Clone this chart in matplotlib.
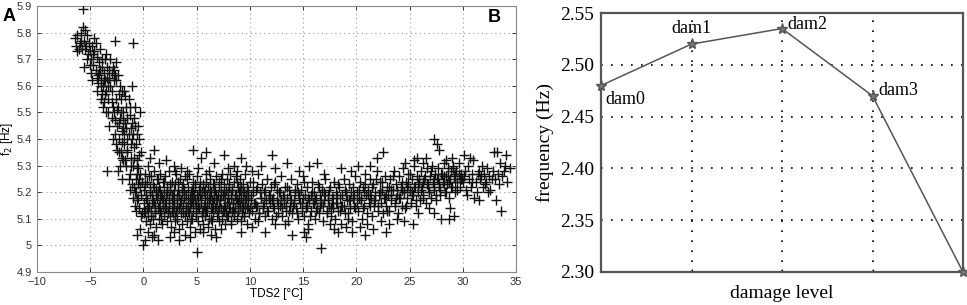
import matplotlib
matplotlib.use("Agg")
import matplotlib.pyplot as plt

# ---------------- Panel A data ----------------
branch_x = [-6.3,-6.2,-6.1,-6.0,-5.9,-5.8,-5.7,-5.6,-5.5,-5.4,-5.3,-5.6,-5.2,-5.1,-5.0,-4.9,-4.8,-4.7,-4.6,-4.5,
            -4.4,-4.3,-4.2,-4.1,-4.0,-3.9,-3.8,-3.7,-3.6,-3.5,-3.4,-3.3,-3.2,-3.1,-3.0,-2.9,-2.8,-2.7,-2.9,-3.0,
            -3.5,-4.0,-4.4,-4.8,-3.2,-2.8,-2.6,-2.5,-2.4,-2.3,-2.2,-2.1,-2.0,-1.9,-1.8,-1.7,-1.6,-1.5,-1.4,-1.3,
            -1.2,-1.1,-1.0,-0.9,-0.8,-2.5,-2.0,-1.6,-1.3,-2.7,-3.7,-2.2,-1.8,-1.4,-2.6,-3.5,-2.7,-1.0,-1.1,-0.35,
            -0.8,-1.1,-2.4,-3.4,-0.7,-0.6,-0.9,-1.2,-1.9,-2.3,-3.1,-4.6,-5.7,-4.1,-3.6,-3.9,-4.3,-2.1,-1.5,-1.0,
            -0.4,-0.2,-0.6,-1.7,-2.0,-1.3,-1.0,-0.8,-0.7,-0.6,-0.5,-0.4,-0.3,-0.2,-0.1,-0.5,-0.3,-0.2,-0.4,-0.6,
            -0.1,-0.7]
branch_y = [5.75,5.79,5.74,5.76,5.80,5.74,5.82,5.77,5.81,5.75,5.79,5.67,5.72,5.76,5.73,5.70,5.75,5.68,5.73,5.66,
            5.71,5.64,5.69,5.74,5.62,5.67,5.60,5.65,5.70,5.58,5.63,5.55,5.66,5.60,5.65,5.67,5.62,5.64,5.52,5.48,
            5.50,5.55,5.58,5.62,5.45,5.50,5.55,5.45,5.52,5.40,5.48,5.55,5.43,5.50,5.38,5.46,5.52,5.35,5.42,5.49,
            5.33,5.40,5.30,5.37,5.45,5.36,5.33,5.30,5.27,5.42,5.54,5.60,5.58,5.55,5.69,5.72,5.77,5.76,5.60,5.50,
            5.52,5.46,5.28,5.28,5.25,5.32,5.22,5.38,5.44,5.57,5.70,5.78,5.89,5.66,5.62,5.57,5.61,5.35,5.48,5.42,
            5.40,5.35,5.42,5.32,5.25,5.21,5.18,5.15,5.20,5.17,5.23,5.14,5.27,5.19,5.12,5.29,5.22,5.11,5.25,5.30,
            5.24,5.13]

branch2_x = [-6.4,-6.2,-5.9,-5.5,-5.3,-5.0,-4.7,-4.5,-4.2,-3.9,-3.7,-3.4,-3.2,-3.0,-2.8,-2.6,-3.8,-3.3,-3.0,-2.7,
             -2.5,-2.3,-2.1,-1.9,-1.6,-2.9,-2.6,-2.3,-2.0,-1.8,-1.5,-1.2,-0.9,-0.7,-2.2,-1.9,-1.5,-1.2,-0.9,-0.6,
             -1.4,-1.1,-0.8,-0.5,-0.4,-4.9,-4.4,-4.0,-3.6,-3.3,-1.7,-2.0,-2.4,-1.3,-0.5]
branch2_y = [5.78,5.73,5.77,5.74,5.70,5.68,5.72,5.76,5.65,5.70,5.62,5.67,5.63,5.58,5.66,5.62,5.52,5.50,5.54,5.47,
             5.51,5.46,5.50,5.47,5.44,5.40,5.38,5.35,5.39,5.42,5.40,5.44,5.48,5.38,5.30,5.32,5.36,5.30,5.33,5.27,
             5.25,5.23,5.20,5.18,5.34,5.65,5.63,5.60,5.57,5.60,5.56,5.58,5.64,5.52,5.45]

body1_x = [0.05,0.12,0.18,0.23,0.31,0.36,0.42,0.47,0.53,0.58,0.64,0.69,0.75,0.81,0.86,0.92,0.97,1.03,1.08,1.14,
           1.19,1.25,1.31,1.36,1.42,1.47,1.53,1.58,1.64,1.69,1.75,1.81,1.86,1.92,1.97,2.03,2.08,2.14,2.19,2.25,
           2.31,2.36,2.42,2.47,2.53,2.58,2.64,2.69,2.75,2.81,2.86,2.92,2.97,3.03,3.08,3.14,3.19,3.25,3.31,3.36,
           3.42,3.47,3.53,3.58,3.64,3.69,3.75,3.81,3.86,3.92,3.97,4.03,4.08,4.14,4.19,4.25,4.31,4.36,4.42,4.47,
           4.53,4.58,4.64,4.69,4.75,4.81,4.86,4.92,4.97,5.03,5.08,5.14,5.19,5.25,5.31,5.36,5.42,5.47,5.53,5.58,
           5.64,5.69,5.75,5.81,5.86,5.92,5.97,6.03,6.08,6.14,6.19,6.25,6.31,6.36,6.42,6.47,6.53,6.58,6.64,6.69,
           6.75,6.81,6.86,6.92,6.97,7.03,7.08,7.14,7.19,7.25,7.31,7.36,7.42,7.47,7.53,7.58,7.64,7.69,7.75,7.81,
           7.86,7.92,7.97,8.03,8.08,8.14,8.19,8.25,8.31,8.36,8.42,8.47,8.53,8.58,8.64,8.69,8.75,8.81,8.86,8.92,
           8.97,9.03,9.08,9.14,9.19,9.25,9.31,9.36,9.42,9.47,9.53,9.58,9.64,9.69,9.75,9.81,9.86,9.92,9.97]
body1_y = [5.21,5.13,5.27,5.09,5.17,5.24,5.11,5.30,5.15,5.20,5.08,5.26,5.13,5.19,5.23,5.10,5.16,5.28,5.12,5.21,
           5.07,5.18,5.25,5.14,5.10,5.22,5.17,5.27,5.12,5.19,5.08,5.24,5.15,5.20,5.11,5.26,5.14,5.18,5.09,5.22,
           5.13,5.28,5.16,5.11,5.21,5.07,5.17,5.24,5.12,5.19,5.15,5.09,5.23,5.13,5.27,5.18,5.10,5.21,5.14,5.06,
           5.25,5.16,5.12,5.20,5.08,5.23,5.15,5.18,5.11,5.26,5.13,5.19,5.09,5.22,5.16,5.12,5.27,5.14,5.07,5.20,
           5.17,5.10,5.24,5.13,5.19,5.05,5.22,5.15,5.11,5.26,5.18,5.09,5.21,5.14,5.06,5.24,5.16,5.12,5.20,5.08,
           5.23,5.15,5.18,5.11,5.27,5.13,5.19,5.07,5.22,5.16,5.10,5.25,5.14,5.20,5.09,5.17,5.23,5.12,5.18,5.06,
           5.21,5.15,5.26,5.11,5.19,5.13,5.24,5.09,5.17,5.21,5.14,5.27,5.10,5.19,5.15,5.23,5.08,5.18,5.12,5.25,
           5.16,5.20,5.11,5.22,5.14,5.27,5.09,5.18,5.13,5.21,5.16,5.24,5.11,5.19,5.14,5.26,5.10,5.17,5.22,5.13,
           5.20,5.15,5.25,5.09,5.18,5.12,5.23,5.16,5.20,5.11,5.27,5.14,5.19,5.08,5.22,5.15,5.18,5.12,5.24]

core1_x = [0.08,0.27,0.44,0.62,0.88,1.11,1.33,1.56,1.78,2.01,2.22,2.44,2.67,2.89,3.11,3.33,3.56,3.78,4.00,4.22,
           4.44,4.67,4.89,5.11,5.33,5.56,5.78,6.00,6.22,6.44,6.67,6.89,7.11,7.33,7.56,7.78,8.00,8.22,8.44,8.67,
           8.89,9.11,9.33,9.56,9.78]
core1_y = [5.16,5.19,5.14,5.22,5.17,5.15,5.20,5.13,5.18,5.16,5.20,5.14,5.19,5.17,5.15,5.19,5.17,5.21,5.14,5.18,
           5.16,5.20,5.17,5.15,5.19,5.13,5.21,5.16,5.18,5.14,5.20,5.17,5.15,5.19,5.13,5.21,5.16,5.19,5.14,5.18,
           5.16,5.21,5.14,5.17,5.19]

dense_x = [0.02,0.14,0.26,0.38,0.50,0.61,0.73,0.85,0.97,1.09,1.21,1.33,1.45,1.57,1.69,1.81,1.93,2.05,2.17,2.29,
           2.41,2.53,2.65,2.77,2.89,3.01,3.13,3.25,3.37,3.49,3.61,3.73,3.85,3.97,4.09,4.21,4.33,4.45,4.57,4.69,
           4.81,4.93,5.05,5.17,5.29,5.41,5.53,5.65,5.77,5.89,6.01,6.13,6.25,6.37,6.49,6.61,6.73,6.85,6.97,7.09,
           7.21,7.33,7.45,7.57,7.69,7.81,7.93,8.05,8.17,8.29,8.41,8.53,8.65,8.77,8.89,9.01,9.13,9.25,9.37,9.49,
           9.61,9.73,9.85]
dense_y = [5.12,5.23,5.18,5.14,5.26,5.20,5.11,5.16,5.22,5.13,5.19,5.25,5.15,5.21,5.10,5.17,5.24,5.14,5.20,5.12,
           5.18,5.23,5.13,5.16,5.21,5.11,5.19,5.24,5.14,5.17,5.22,5.12,5.20,5.15,5.25,5.13,5.18,5.10,5.21,5.16,
           5.23,5.12,5.19,5.14,5.22,5.17,5.11,5.20,5.15,5.24,5.13,5.18,5.21,5.10,5.16,5.23,5.14,5.19,5.12,5.22,
           5.17,5.25,5.13,5.20,5.15,5.11,5.18,5.23,5.14,5.21,5.16,5.12,5.19,5.24,5.13,5.17,5.22,5.15,5.20,5.11,
           5.18,5.14,5.21]

body2_x = [10.1,10.2,10.3,10.4,10.5,10.6,10.7,10.8,10.9,11.0,11.1,11.2,11.3,11.4,11.5,11.6,11.7,11.8,11.9,12.0,
           12.1,12.2,12.3,12.4,12.5,12.6,12.7,12.8,12.9,13.0,13.1,13.2,13.3,13.4,13.5,13.6,13.7,13.8,13.9,14.0,
           14.1,14.2,14.3,14.4,14.5,14.6,14.7,14.8,14.9,15.0,15.1,15.2,15.3,15.4,15.5,15.6,15.7,15.8,15.9,16.0,
           16.1,16.2,16.3,16.4,16.5,16.6,16.7,16.8,16.9,17.0,17.1,17.2,17.3,17.4,17.5,17.6,17.7,17.8,17.9,18.0,
           18.1,18.2,18.3,18.4,18.5,18.6,18.7,18.8,18.9,19.0,19.1,19.2,19.3,19.4,19.5,19.6,19.7,19.8,19.9,
           10.15,10.55,10.95,11.35,11.75,12.15,12.55,12.95,13.35,13.75,14.15,14.55,14.95,15.35,15.75,16.15,16.55,
           16.95,17.35,17.75,18.15,18.55,18.95,19.35,19.75]
body2_y = [5.19,5.13,5.24,5.16,5.10,5.21,5.15,5.27,5.12,5.18,5.23,5.14,5.20,5.11,5.17,5.25,5.13,5.19,5.16,5.22,
           5.10,5.18,5.14,5.24,5.17,5.12,5.20,5.15,5.26,5.11,5.19,5.16,5.22,5.13,5.18,5.09,5.21,5.15,5.25,5.12,
           5.17,5.20,5.14,5.23,5.10,5.18,5.16,5.21,5.13,5.26,5.11,5.19,5.15,5.22,5.08,5.17,5.13,5.24,5.16,5.20,
           5.10,5.18,5.14,5.23,5.12,5.19,5.16,5.21,5.09,5.17,5.25,5.13,5.19,5.15,5.22,5.11,5.18,5.14,5.24,5.10,
           5.20,5.16,5.13,5.22,5.18,5.08,5.15,5.25,5.12,5.19,5.17,5.10,5.23,5.14,5.20,5.09,5.18,5.15,5.26,
           5.17,5.15,5.20,5.16,5.18,5.15,5.21,5.17,5.15,5.19,5.16,5.20,5.18,5.15,5.19,5.17,5.15,
           5.20,5.17,5.16,5.19,5.15,5.21,5.17,5.19]

body3_x = [20.1,20.2,20.3,20.4,20.5,20.6,20.7,20.8,20.9,21.0,21.1,21.2,21.3,21.4,21.5,21.6,21.7,21.8,21.9,22.0,
           22.1,22.2,22.3,22.4,22.5,22.6,22.7,22.8,22.9,23.0,23.1,23.2,23.3,23.4,23.5,23.6,23.7,23.8,23.9,24.0,
           24.1,24.2,24.3,24.4,24.5,24.6,24.7,24.8,24.9,25.0,25.1,25.2,25.3,25.4,25.5,25.6,25.7,25.8,25.9,26.0,
           26.1,26.2,26.3,26.4,26.5,26.6,26.7,26.8,26.9,27.0,27.1,27.2,27.3,27.4,27.5,27.6,27.7,27.8,27.9,28.0,
           28.1,28.2,28.3,28.4,28.5,28.6,28.7,28.8,28.9,29.0,29.1,29.2,29.3,29.4,29.5,29.6,29.7,29.8,29.9,
           20.25,20.75,21.25,21.75,22.25,22.75,23.25,23.75,24.25,24.75,25.25,25.75,26.25,26.75,27.25,27.75,28.25,
           28.75,29.25,29.75]
body3_y = [5.20,5.13,5.24,5.17,5.10,5.22,5.15,5.27,5.19,5.12,5.21,5.16,5.25,5.18,5.11,5.23,5.15,5.20,5.28,5.13,
           5.19,5.24,5.16,5.21,5.12,5.18,5.26,5.15,5.22,5.19,5.13,5.25,5.17,5.21,5.28,5.15,5.23,5.19,5.12,5.26,
           5.18,5.22,5.15,5.29,5.20,5.14,5.24,5.18,5.27,5.21,5.16,5.25,5.19,5.30,5.22,5.15,5.26,5.20,5.24,5.17,
           5.28,5.22,5.19,5.25,5.16,5.29,5.23,5.20,5.26,5.18,5.30,5.24,5.21,5.27,5.17,5.25,5.29,5.22,5.19,5.27,
           5.24,5.31,5.20,5.26,5.23,5.29,5.18,5.25,5.28,5.22,5.30,5.26,5.20,5.28,5.24,5.31,5.22,5.27,5.25,
           5.18,5.20,5.19,5.17,5.20,5.19,5.21,5.18,5.21,5.22,5.20,5.23,5.24,5.22,5.25,5.23,5.26,
           5.24,5.27,5.25]

mid_x = [10.05,10.25,10.45,10.65,10.85,11.05,11.25,11.45,11.65,11.85,12.05,12.25,12.45,12.65,12.85,13.05,13.25,13.45,13.65,13.85,
         14.05,14.25,14.45,14.65,14.85,15.05,15.25,15.45,15.65,15.85,16.05,16.25,16.45,16.65,16.85,17.05,17.25,17.45,17.65,17.85,
         18.05,18.25,18.45,18.65,18.85,19.05,19.25,19.45,19.65,19.85,20.05,20.25,20.45,20.65,20.85,21.05,21.25,21.45,21.65,21.85,
         22.05,22.25,22.45,22.65,22.85,23.05,23.25,23.45,23.65,23.85,24.05,24.25,24.45,24.65,24.85,25.05,25.25,25.45,25.65,25.85,
         26.05,26.25,26.45,26.65,26.85,27.05,27.25,27.45,27.65,27.85,28.05,28.25,28.45,28.65,28.85,29.05,29.25,29.45,29.65,29.85]
mid_y = [5.14,5.20,5.16,5.22,5.12,5.18,5.15,5.21,5.13,5.19,5.17,5.23,5.11,5.16,5.20,5.14,5.18,5.22,5.13,5.17,
         5.15,5.21,5.12,5.19,5.16,5.24,5.14,5.18,5.11,5.20,5.16,5.13,5.22,5.17,5.15,5.19,5.12,5.21,5.14,5.18,
         5.16,5.23,5.13,5.19,5.15,5.20,5.12,5.17,5.22,5.14,5.16,5.21,5.18,5.14,5.23,5.19,5.15,5.22,5.17,5.25,
         5.15,5.20,5.24,5.18,5.13,5.22,5.19,5.26,5.16,5.21,5.18,5.24,5.20,5.15,5.23,5.27,5.19,5.22,5.17,5.25,
         5.21,5.18,5.26,5.23,5.20,5.28,5.22,5.19,5.25,5.21,5.27,5.23,5.20,5.26,5.22,5.29,5.24,5.21,5.27,5.25]

body4_x = [30.0,30.2,30.3,30.5,30.6,30.8,30.9,31.0,31.2,31.3,31.5,31.6,31.8,31.9,32.0,32.2,32.3,32.5,32.6,32.8,
           32.9,33.0,33.1,33.2,33.3,33.5,33.6,33.7,33.9,34.0,34.2,34.4,30.4,31.1,31.5,32.4,33.4,34.1,30.7,31.7,
           32.1,30.1,30.9,31.4,32.7]
body4_y = [5.24,5.28,5.21,5.30,5.25,5.22,5.27,5.32,5.24,5.20,5.28,5.25,5.30,5.22,5.27,5.24,5.29,5.26,5.21,5.28,
           5.35,5.25,5.17,5.35,5.27,5.31,5.13,5.26,5.28,5.30,5.24,5.29,5.19,5.18,5.17,5.20,5.23,5.34,5.33,5.26,
           5.23,5.26,5.24,5.27,5.25]

fringe_x = [-0.6,-0.3,0.0,0.1,0.4,0.8,1.4,1.0,2.5,3.3,3.9,4.4,5.0,5.6,6.3,6.8,8.2,9.2,7.3,2.9,
            0.6,1.0,1.5,2.1,2.9,3.5,4.7,5.4,5.9,6.6,7.6,8.5,9.2,9.6,4.1,5.1,6.2,7.9,8.8,3.0,
            10.2,11.4,12.4,14.0,15.3,15.5,16.7,17.5,18.3,19.0,19.6,15.1,13.3,17.9,10.8,
            10.2,11.0,12.1,12.4,14.6,15.6,16.3,17.0,18.6,19.5,13.5,
            20.3,21.0,21.6,22.3,23.1,23.8,24.5,25.3,25.8,26.8,27.3,28.0,28.8,29.2,22.8,20.8,28.7,
            21.9,22.5,27.3,27.6,27.8,25.7,26.5,30.1,24.6,25.4,26.3,29.0,28.4,20.2,21.3]
fringe_y = [5.04,5.06,5.00,5.02,5.05,5.03,5.02,5.04,5.03,5.02,5.04,5.03,4.975,5.05,5.04,5.03,5.08,5.05,5.06,5.05,
            5.33,5.36,5.31,5.32,5.30,5.29,5.36,5.33,5.35,5.31,5.34,5.30,5.33,5.30,5.28,5.29,5.28,5.29,5.28,5.28,
            5.07,5.05,5.08,5.04,5.03,5.06,4.99,5.08,5.05,5.07,5.05,5.05,5.08,5.06,5.09,
            5.28,5.30,5.34,5.29,5.28,5.30,5.31,5.27,5.29,5.28,5.31,
            5.07,5.08,5.06,5.09,5.08,5.10,5.09,5.08,5.12,5.14,5.12,5.10,5.14,5.11,5.05,5.04,5.10,
            5.33,5.35,5.40,5.38,5.36,5.33,5.33,5.34,5.31,5.32,5.31,5.33,5.32,5.30,5.30]

# ---------------- Panel B data ----------------
damage_levels = [0, 1, 2, 3, 4]
frequency_hz = [2.48, 2.52, 2.535, 2.47, 2.30]
damage_labels = ["dam0", "dam1", "dam2", "dam3", ""]

fig = plt.figure(figsize=(9.67, 3.05), dpi=100)

# ---------------- Panel A ----------------
sans = ["Liberation Sans", "DejaVu Sans"]
axA = fig.add_axes([37/967, 1-272/305, (516-37)/967, (272-6)/305])
for xs, ys in [(branch_x, branch_y), (branch2_x, branch2_y), (body1_x, body1_y), (core1_x, core1_y),
               (dense_x, dense_y), (body2_x, body2_y), (body3_x, body3_y), (mid_x, mid_y),
               (body4_x, body4_y), (fringe_x, fringe_y)]:
    axA.scatter(xs, ys, marker="+", s=46, c="#111111", linewidths=1.0, zorder=3)
axA.set_xlim(-10, 35)
axA.set_ylim(4.9, 5.9)
axA.set_xticks(range(-10, 36, 5))
axA.set_yticks([4.9 + 0.1*i for i in range(11)])
axA.set_yticklabels(["4.9", "5", "5.1", "5.2", "5.3", "5.4", "5.5", "5.6", "5.7", "5.8", "5.9"])
axA.tick_params(direction="in", length=3, width=0.7, labelsize=8, colors="#333333", top=True, right=True)
for lab in axA.get_xticklabels() + axA.get_yticklabels():
    lab.set_family(sans)
axA.grid(True, linestyle=(0, (1, 3)), color="#9a9a9a", linewidth=0.8)
for s in axA.spines.values():
    s.set_color("#888888")
    s.set_linewidth(0.8)
axA.set_xlabel("TDS2 [°C]", fontsize=8.5, family=sans, labelpad=1)
axA.set_ylabel("f$_2$ [Hz]", fontsize=8.5, family=sans, labelpad=1)
fig.text(3/967, 1-21/305, "A", fontsize=13, fontweight="bold", family=sans)

# ---------------- Panel B ----------------
serif = ["Liberation Serif", "DejaVu Serif"]
axB = fig.add_axes([601/967, 1-272/305, (963-601)/967, (272-13)/305])
axB.plot(damage_levels, frequency_hz, color="#555555", linewidth=1.1, marker="*",
         markersize=8, markerfacecolor="#777777", markeredgecolor="#555555", clip_on=False, zorder=3)
axB.set_xlim(0, 4)
axB.set_ylim(2.30, 2.55)
axB.set_xticks([1, 2, 3])
axB.set_xticklabels([])
axB.set_yticks([2.30, 2.35, 2.40, 2.45, 2.50, 2.55])
axB.set_yticklabels(["2.30", "2.35", "2.40", "2.45", "2.50", "2.55"])
axB.tick_params(axis="y", length=0, labelsize=14, pad=5)
axB.tick_params(axis="x", direction="in", length=2)
for lab in axB.get_yticklabels():
    lab.set_family(serif)
axB.grid(True, linestyle=(0, (1, 5)), color="black", linewidth=1.2)
for s in axB.spines.values():
    s.set_color("#555555")
    s.set_linewidth(1.6)
axB.set_xlabel("damage level", fontsize=14, family=serif, labelpad=6)
axB.set_ylabel("frequency (Hz)", fontsize=14, family=serif, labelpad=4)

offsets = [(3, -4, "left", "top"), (0, 5, "center", "bottom"),
           (4, 3, "left", "center"), (4, 4, "left", "center")]
for xv, yv, lab, (dx, dy, ha, va) in zip(damage_levels, frequency_hz, damage_labels, offsets):
    axB.annotate(lab, (xv, yv), xytext=(dx, dy), textcoords="offset points",
                 ha=ha, va=va, fontsize=13, family=serif)
fig.text(488/967, 1-22/305, "B", fontsize=13, fontweight="bold", family=sans)

fig.savefig("out.png", dpi=100)
